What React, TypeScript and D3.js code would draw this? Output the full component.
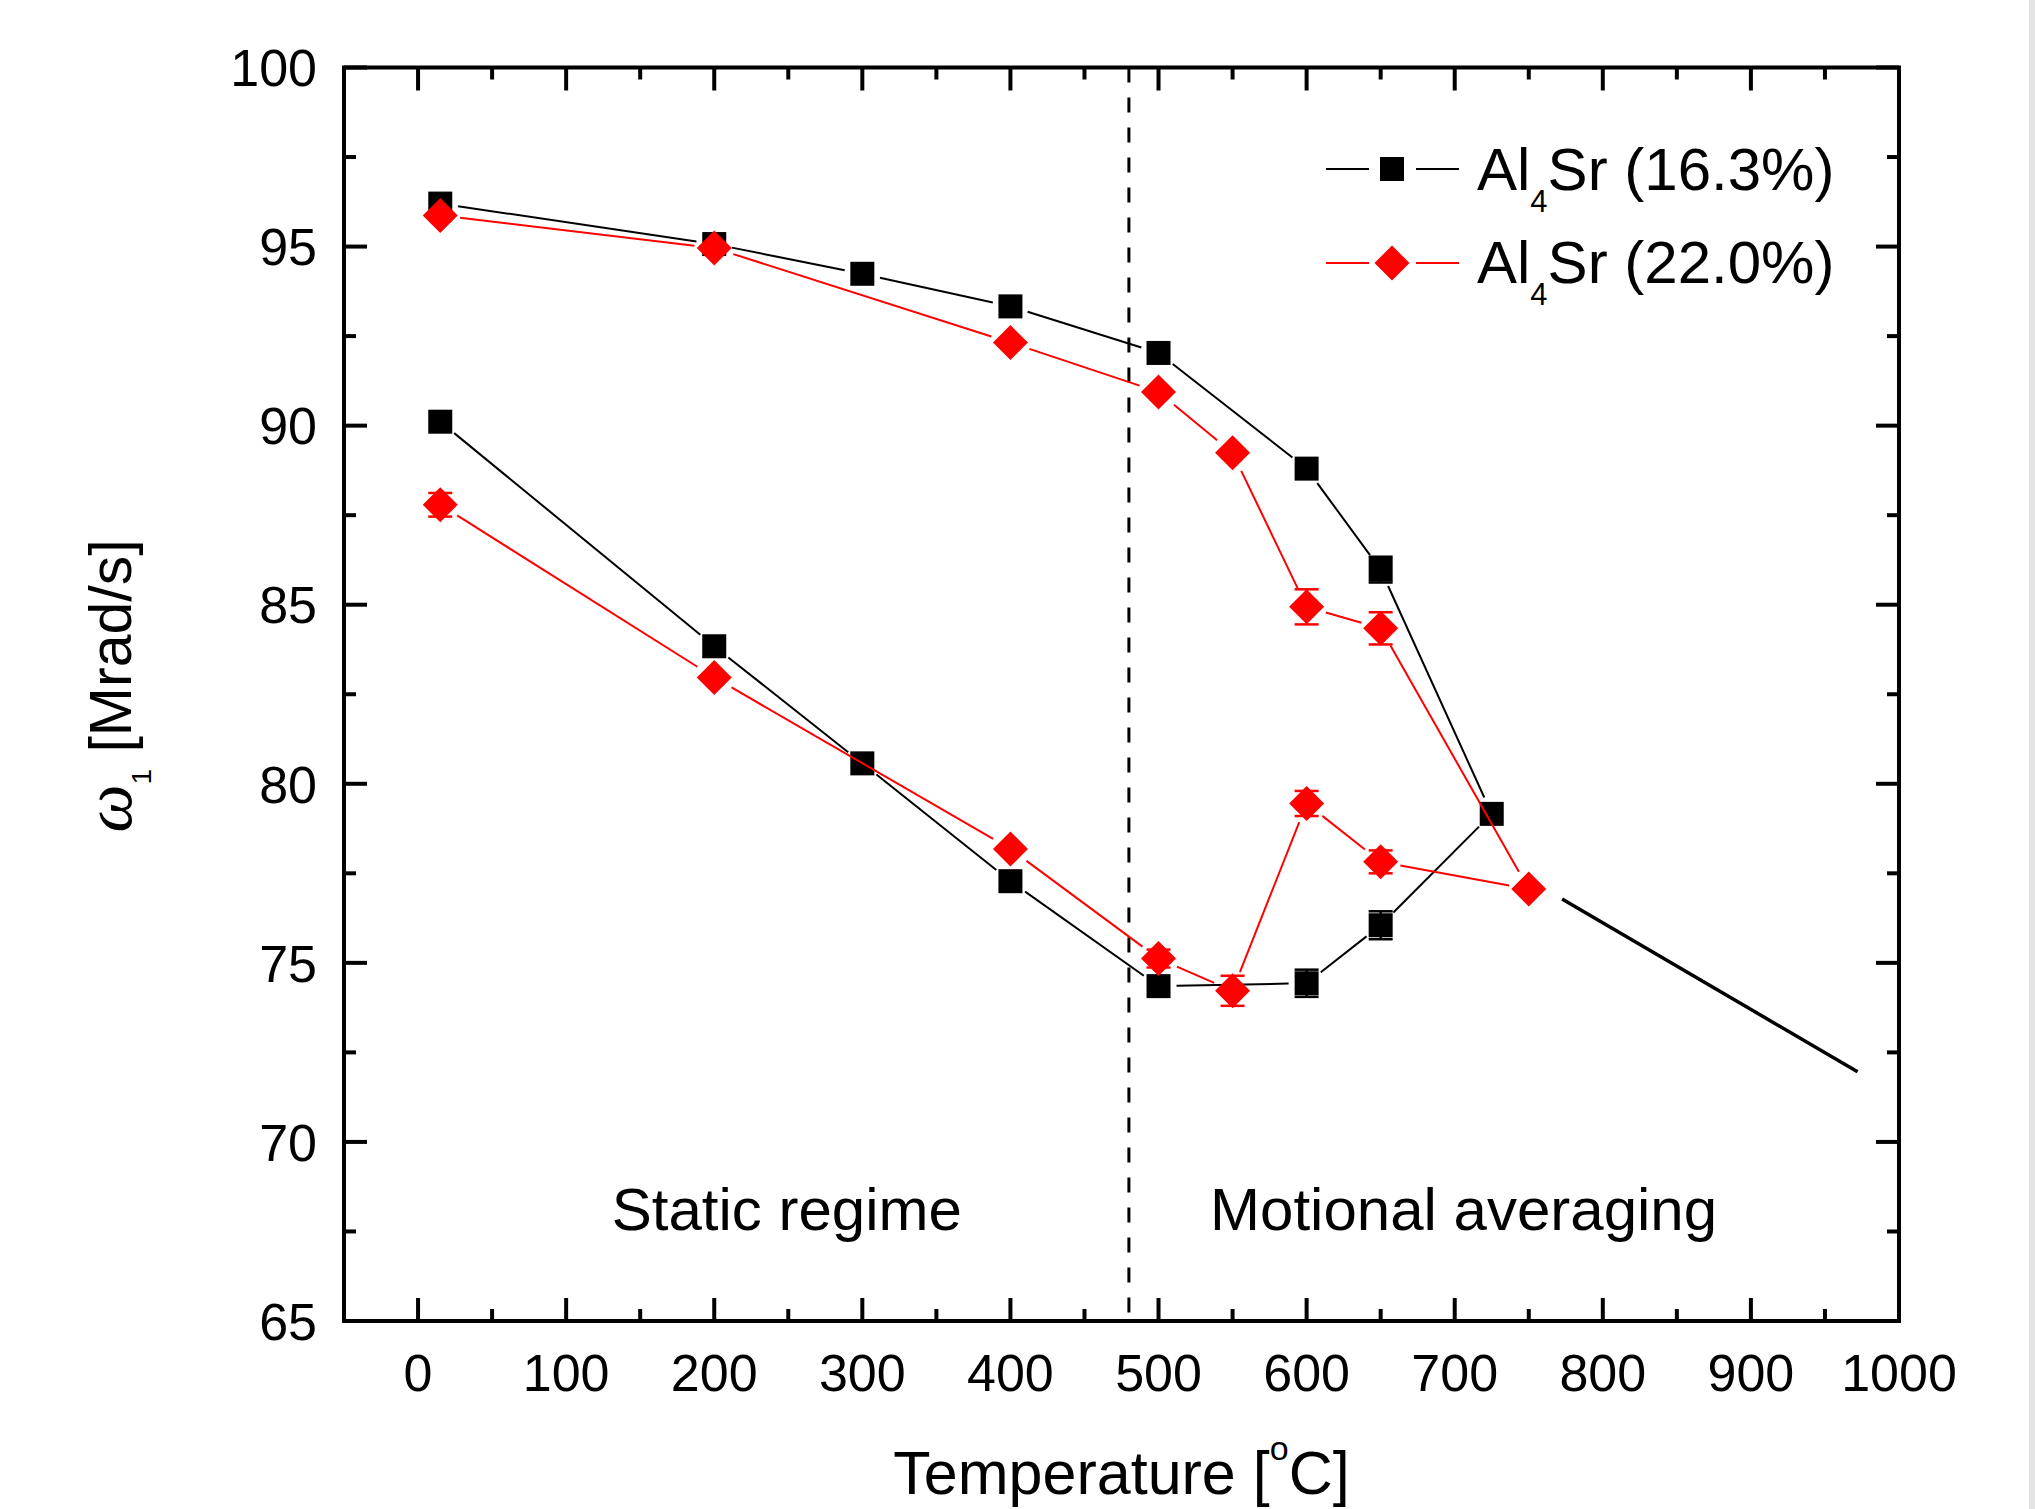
import React from "react";
import * as d3 from "d3";

// ---- data ----
const blackT = [15, 200, 300, 400, 500, 600, 650, 725, 650, 600, 500, 400, 300, 200, 15];
const blackW = [96.2, 95.07, 94.24, 93.33, 92.03, 88.8, 85.98, 79.16, 76.05, 74.43, 74.35, 77.28, 80.57, 83.84, 90.11];
const blackErr = [0, 0, 0, 0, 0, 0, 0.36, 0, 0.39, 0.38, 0, 0, 0, 0, 0];

const redT = [15, 200, 400, 500, 550, 600, 650, 750, 650, 600, 550, 500, 400, 200, 15];
const redW = [95.87, 94.96, 92.32, 90.94, 89.24, 84.94, 84.34, 77.06, 77.82, 79.45, 74.22, 75.12, 78.18, 82.97, 87.79];
const redErr = [0, 0, 0, 0, 0, 0.49, 0.45, 0, 0.32, 0.35, 0.42, 0.25, 0, 0, 0.33];

const guideT = [772.5, 972];
const guideW = [76.78, 71.96];

const regimeBoundary = 480;

const xMajor = [0, 100, 200, 300, 400, 500, 600, 700, 800, 900, 1000];
const xMinor = [50, 150, 250, 350, 450, 550, 650, 750, 850, 950];
const yMajor = [65, 70, 75, 80, 85, 90, 95, 100];
const yMinor = [67.5, 72.5, 77.5, 82.5, 87.5, 92.5, 97.5];

const legendLabels = ["(16.3%)", "(22.0%)"];
const regionLabels = ["Static regime", "Motional averaging"];
const regionCenters = [249, 706];

const W = 2035;
const H = 1509;
const L = 344, R = 1899, T = 67.5, B = 1321;
const FONT = "'Liberation Sans', Arial, Helvetica, sans-serif";

const x = d3.scaleLinear().domain([-50, 1000]).range([L, R]);
const y = d3.scaleLinear().domain([65, 100]).range([B, T]);

function segments(ts: number[], ws: number[], gap: number) {
  const out: { x1: number; y1: number; x2: number; y2: number }[] = [];
  for (let i = 0; i < ts.length - 1; i++) {
    const ax = x(ts[i]), ay = y(ws[i]);
    const bx = x(ts[i + 1]), by = y(ws[i + 1]);
    const dx = bx - ax, dy = by - ay;
    const len = Math.hypot(dx, dy);
    if (len <= 2 * gap) continue;
    const ux = dx / len, uy = dy / len;
    out.push({ x1: ax + ux * gap, y1: ay + uy * gap, x2: bx - ux * gap, y2: by - uy * gap });
  }
  return out;
}

const SQ = 24;
const DI = 35;

function Square({ cx, cy }: { cx: number; cy: number }) {
  return <rect x={cx - SQ / 2} y={cy - SQ / 2} width={SQ} height={SQ} fill="#000" />;
}
function Diamond({ cx, cy }: { cx: number; cy: number }) {
  const h = DI / 2;
  return <path d={`M${cx},${cy - h}L${cx + h},${cy}L${cx},${cy + h}L${cx - h},${cy}Z`} fill="#ff0000" />;
}

function ErrorBars({ ts, ws, es, color }: { ts: number[]; ws: number[]; es: number[]; color: string }) {
  return (
    <g stroke={color} strokeWidth={2.5}>
      {ts.map((t, i) => {
        if (!es[i]) return null;
        const cx = x(t);
        const y1 = y(ws[i] + es[i]);
        const y2 = y(ws[i] - es[i]);
        return (
          <g key={i}>
            <line x1={cx} x2={cx} y1={y1} y2={y2} />
            <line x1={cx - 12} x2={cx + 12} y1={y1} y2={y1} />
            <line x1={cx - 12} x2={cx + 12} y1={y2} y2={y2} />
          </g>
        );
      })}
    </g>
  );
}

export default function App() {
  const blackSegs = segments(blackT, blackW, 18);
  const redSegs = segments(redT, redW, 20);

  return (
    <svg
      width={W}
      height={H}
      viewBox={`0 0 ${W} ${H}`}
      style={{ position: "absolute", left: 0, top: 0, background: "#fff" }}
      fontFamily={FONT}
    >
      <rect x={0} y={0} width={W} height={H} fill="#fff" />
      <rect x={2029} y={0} width={6} height={H} fill="#e4e4e4" />

      {/* dashed regime boundary */}
      <line
        x1={x(regimeBoundary)}
        x2={x(regimeBoundary)}
        y1={T}
        y2={B}
        stroke="#000"
        strokeWidth={3}
        strokeDasharray="15,15"
      />

      {/* extra guide line */}
      <line
        x1={x(guideT[0])}
        y1={y(guideW[0])}
        x2={x(guideT[1])}
        y2={y(guideW[1])}
        stroke="#000"
        strokeWidth={3.5}
      />

      {/* black series */}
      <g stroke="#000" strokeWidth={2}>
        {blackSegs.map((s, i) => (
          <line key={i} {...s} />
        ))}
      </g>
      <ErrorBars ts={blackT} ws={blackW} es={blackErr} color="#000" />
      {blackT.map((t, i) => (
        <Square key={i} cx={x(t)} cy={y(blackW[i])} />
      ))}

      {/* red series */}
      <g stroke="#ff0000" strokeWidth={2}>
        {redSegs.map((s, i) => (
          <line key={i} {...s} />
        ))}
      </g>
      <ErrorBars ts={redT} ws={redW} es={redErr} color="#ff0000" />
      {redT.map((t, i) => (
        <Diamond key={i} cx={x(t)} cy={y(redW[i])} />
      ))}

      {/* frame */}
      <rect x={L} y={T} width={R - L} height={B - T} fill="none" stroke="#000" strokeWidth={4} />

      {/* ticks */}
      <g stroke="#000" strokeWidth={4}>
        {xMajor.map((v) => (
          <g key={"xm" + v}>
            <line x1={x(v)} x2={x(v)} y1={B} y2={B - 23} />
            <line x1={x(v)} x2={x(v)} y1={T} y2={T + 23} />
          </g>
        ))}
        {xMinor.map((v) => (
          <g key={"xn" + v}>
            <line x1={x(v)} x2={x(v)} y1={B} y2={B - 12} />
            <line x1={x(v)} x2={x(v)} y1={T} y2={T + 12} />
          </g>
        ))}
        {yMajor.map((v) => (
          <g key={"ym" + v}>
            <line x1={L} x2={L + 23} y1={y(v)} y2={y(v)} />
            <line x1={R} x2={R - 23} y1={y(v)} y2={y(v)} />
          </g>
        ))}
        {yMinor.map((v) => (
          <g key={"yn" + v}>
            <line x1={L} x2={L + 12} y1={y(v)} y2={y(v)} />
            <line x1={R} x2={R - 12} y1={y(v)} y2={y(v)} />
          </g>
        ))}
      </g>

      {/* tick labels */}
      <g fontSize={52} fill="#000">
        {xMajor.map((v) => (
          <text key={"xl" + v} x={x(v)} y={1391} textAnchor="middle">
            {v}
          </text>
        ))}
        {yMajor.map((v) => (
          <text key={"yl" + v} x={317} y={y(v)} dy="0.36em" textAnchor="end">
            {v}
          </text>
        ))}
      </g>

      {/* axis titles */}
      <text x={(L + R) / 2} y={1494} fontSize={61} textAnchor="middle" fill="#000">
        Temperature [
        <tspan fontSize={34} dy={-34}>o</tspan>
        <tspan dy={34}>C]</tspan>
      </text>
      <text transform="translate(131,686) rotate(-90)" fontSize={59} textAnchor="middle" fill="#000">
        <tspan fontFamily="'Liberation Serif', 'DejaVu Serif', serif" fontStyle="italic" fontSize={68}>
          ω
        </tspan>
        <tspan fontSize={28} dy={20}>1</tspan>
        <tspan dy={-20}> [Mrad/s]</tspan>
      </text>

      {/* region labels */}
      {regionLabels.map((lbl, i) => (
        <text key={lbl} x={x(regionCenters[i])} y={1230} fontSize={60} textAnchor="middle" fill="#000">
          {lbl}
        </text>
      ))}

      {/* legend */}
      <g>
        <line x1={1326} x2={1369} y1={169} y2={169} stroke="#000" strokeWidth={2} />
        <line x1={1416} x2={1459} y1={169} y2={169} stroke="#000" strokeWidth={2} />
        <Square cx={1392} cy={169} />
        <text x={1477} y={190} fontSize={60} fill="#000">
          Al<tspan fontSize={31} dy={22}>4</tspan>
          <tspan dy={-22}>Sr {legendLabels[0]}</tspan>
        </text>

        <line x1={1326} x2={1369} y1={263} y2={263} stroke="#ff0000" strokeWidth={2} />
        <line x1={1416} x2={1459} y1={263} y2={263} stroke="#ff0000" strokeWidth={2} />
        <Diamond cx={1392} cy={263} />
        <text x={1477} y={283} fontSize={60} fill="#000">
          Al<tspan fontSize={31} dy={22}>4</tspan>
          <tspan dy={-22}>Sr {legendLabels[1]}</tspan>
        </text>
      </g>
    </svg>
  );
}
